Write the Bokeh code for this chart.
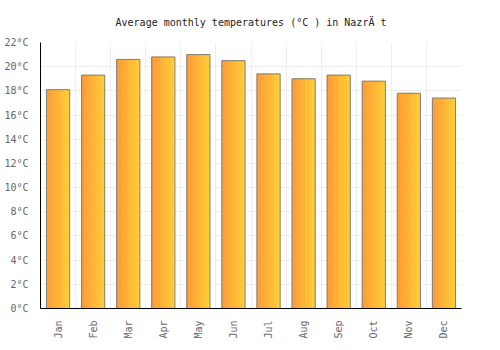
from bokeh.plotting import figure
from bokeh.models import FixedTicker, PrintfTickFormatter, Range1d
from bokeh.embed import file_html
from bokeh.resources import INLINE
import math

months = ["Jan", "Feb", "Mar", "Apr", "May", "Jun", "Jul", "Aug", "Sep", "Oct", "Nov", "Dec"]
temps = [18.1, 19.3, 20.6, 20.8, 21.0, 20.5, 19.4, 19.0, 19.3, 18.8, 17.8, 17.4]
y_ticks = list(range(0, 23, 2))

title = "Average monthly temperatures (°C ) in NazrÄ t"

p = figure(width=500, height=350, output_backend="svg", toolbar_location=None,
           title=title, x_range=Range1d(0, 12), y_range=Range1d(0, 22),
           min_border_left=40, min_border_right=39, min_border_top=42, min_border_bottom=42)

p.title.align = "center"
p.title.text_font = "DejaVu Sans Mono"
p.title.text_font_size = "10px"
p.title.text_font_style = "normal"
p.title.text_color = "#222222"
p.title.standoff = 29

bar_w = 0.66
n_slices = 16
c0 = (255, 153, 51)
c1 = (255, 204, 51)
centers = [i + 0.5 for i in range(len(months))]
for k in range(n_slices):
    t = k / (n_slices - 1)
    col = "#%02x%02x%02x" % tuple(int(round(a + (b - a) * t)) for a, b in zip(c0, c1))
    off = -bar_w / 2 + (k + 0.5) * bar_w / n_slices
    p.vbar(x=[c + off for c in centers], top=temps, width=bar_w / n_slices,
           fill_color=col, line_color=col, line_width=0.6)
p.vbar(x=centers, top=temps, width=bar_w, fill_color=None, line_color="#808080", line_width=1)

p.xaxis.ticker = FixedTicker(ticks=centers)
p.xaxis.major_label_overrides = {c: m for c, m in zip(centers, months)}
p.xaxis.major_label_orientation = math.pi / 2
p.xgrid.ticker = FixedTicker(ticks=list(range(0, 13)))
p.yaxis.ticker = FixedTicker(ticks=y_ticks)
p.yaxis.formatter = PrintfTickFormatter(format="%d°C")

for ax in (p.xaxis, p.yaxis):
    ax.major_label_text_font = "DejaVu Sans Mono"
    ax.major_label_text_font_size = "10px"
    ax.major_label_text_color = "#666666"
    ax.major_tick_line_color = None
    ax.minor_tick_line_color = None
    ax.axis_line_color = "#000000"
    ax.major_label_standoff = 6

p.grid.grid_line_color = "#eeeeee"
p.outline_line_color = None

open("out.html", "w").write(file_html(p, INLINE))
